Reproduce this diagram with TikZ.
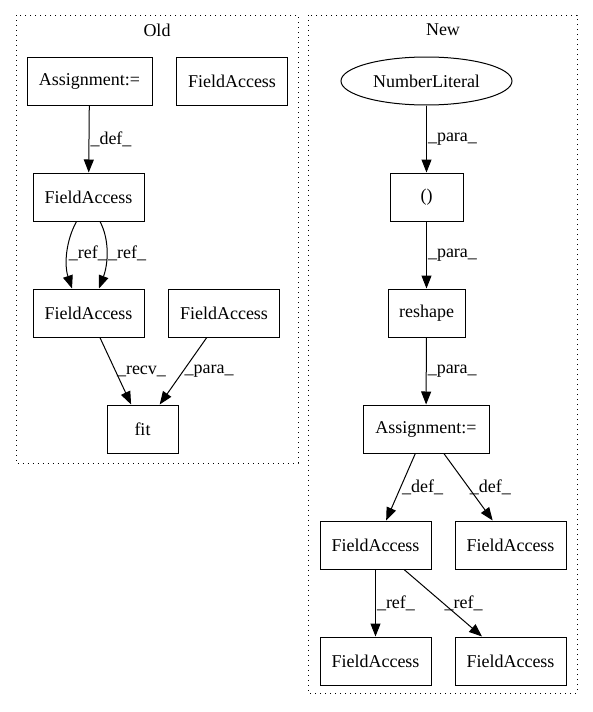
\documentclass[tikz,border=0pt]{standalone}
\usepackage{fontspec}
\setmainfont{Liberation Serif}
\usetikzlibrary{arrows.meta,shapes.geometric}
\tikzset{box/.style={draw, rectangle, line width=1pt, minimum width=111pt, minimum height=48pt, inner sep=0pt, font=\fontsize{18}{21}\selectfont},
lit/.style={draw, ellipse, line width=1pt, minimum width=171pt, minimum height=48pt, inner sep=0pt, font=\fontsize{18}{21}\selectfont},
edge/.style={-{Triangle[length=13pt,width=10pt]}, line width=1pt},
lbl/.style={right, inner sep=1pt, font=\fontsize{18}{21}\selectfont},
cluster/.style={draw, line width=1pt, dash pattern=on 1.2pt off 3.8pt}}

\begin{document}
\begin{tikzpicture}[x=1pt,y=-1pt]

    \useasboundingbox (0,0) rectangle (593,712);

    % clusters
    \draw[cluster] (16,15) rectangle (298,463);
    \draw[cluster] (308,15) rectangle (577,693);
    \node[font=\fontsize{18}{21}\selectfont] (oldT) at (157,30) {Old};
    \node[font=\fontsize{18}{21}\selectfont] (newT) at (443,30) {New};

    % old
    \coordinate (o1) at (89.5,81);
    \coordinate (o2) at (232,81);
    \coordinate (o3) at (88.5,197);
    \coordinate (o4) at (88.5,313);
    \coordinate (o5) at (224,313);
    \coordinate (o6) at (142.5,429);

    % new
    \coordinate (n1) at (426.5,81);
    \coordinate (n2) at (426.5,197);
    \coordinate (n3) at (426.5,313);
    \coordinate (n4) at (426,429);
    \coordinate (n5) at (375.5,545);
    \coordinate (n6) at (510.5,545);
    \coordinate (n7) at (375.5,661);
    \coordinate (n8) at (510.5,661);

    \node[box, minimum width=125pt] (oAsg) at (o1) {Assignment:=};
    \node[box, minimum width=71pt] (oFit) at (o6) {fit};

    \foreach \i in {2,3,4,5}
    \node[box] (oFA\i) at (o\i) {FieldAccess};

    \node[lit] (nLit) at (n1) {NumberLiteral};
    \node[box, minimum width=73pt] (nPar) at (n2) {()};
    \node[box, minimum width=77pt] (nRes) at (n3) {reshape};
    \node[box, minimum width=126pt] (nAsg) at (n4) {Assignment:=};

    \foreach \i in {5,6,7,8}
    \node[box] (nFA\i) at (n\i) {FieldAccess};


    \draw[edge] (oAsg) -- node[lbl] {\_def\_} (oFA3);
    \draw[edge] ([xshift=-12pt]oFA3.south) .. controls +(-10.5,19) and +(-8,-24) .. node[lbl, pos=0.5] {\_ref\_} ([xshift=-16.5pt]oFA4.north);
    \draw[edge] ([xshift=11.5pt]oFA3.south) .. controls +(10,19) and +(9,-24) .. node[lbl, pos=0.5] {\_ref\_} ([xshift=10.5pt]oFA4.north);
    \draw[edge] (oFA4) -- node[lbl] {\_recv\_} (oFit);
    \draw[edge] (oFA5) -- node[lbl] {\_para\_} (oFit);

    \draw[edge] (nLit) -- node[lbl] {\_para\_} (nPar);
    \draw[edge] (nPar) -- node[lbl] {\_para\_} (nRes);
    \draw[edge] (nRes) -- node[lbl] {\_para\_} (nAsg);
    \draw[edge] (nAsg) -- node[lbl] {\_def\_} (nFA5);
    \draw[edge] (nAsg) -- node[lbl] {\_def\_} (nFA6);
    \draw[edge] (nFA5) -- node[lbl] {\_ref\_} (nFA7);
    \draw[edge] (nFA5) -- node[lbl] {\_ref\_} (nFA8);

  \end{tikzpicture}
\end{document}
